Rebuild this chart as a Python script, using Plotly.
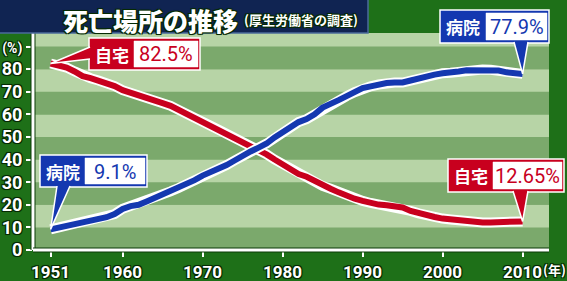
import plotly.graph_objects as go

years = list(range(1951, 2011))
hospital = [9.1, 9.9, 10.5, 11.2, 12.0, 12.8, 13.6, 14.5, 15.9, 18.2,
            19.4, 20.0, 21.5, 23.0, 24.6, 25.9, 27.4, 28.9, 30.9, 32.9,
            34.3, 36.0, 37.6, 39.6, 41.8, 43.6, 45.3, 47.1, 49.8, 52.1,
            54.7, 56.6, 57.9, 60.0, 63.0, 64.4, 66.3, 68.1, 69.8, 71.6,
            72.4, 73.2, 73.9, 74.1, 74.1, 75.0, 76.0, 77.2, 77.6, 78.2,
            78.4, 79.0, 79.5, 79.6, 79.8, 79.7, 79.4, 78.6, 78.3, 77.9]
home = [82.5, 81.8, 80.7, 79.0, 76.9, 76.0, 75.0, 74.0, 72.5, 70.7,
        69.6, 68.9, 67.8, 66.5, 65.0, 63.8, 62.0, 60.5, 58.5, 56.6,
        55.0, 53.2, 51.5, 49.8, 47.7, 45.9, 44.0, 42.3, 40.0, 38.0,
        35.6, 33.6, 32.4, 30.5, 28.3, 27.1, 25.5, 23.9, 22.7, 21.7,
        20.8, 20.1, 19.8, 19.4, 18.8, 17.3, 16.2, 15.1, 14.6, 13.9,
        13.5, 13.0, 12.6, 12.4, 12.2, 12.2, 12.3, 12.7, 12.4, 12.65]

xtick_vals = [1951, 1960, 1970, 1980, 1990, 2000, 2010]
ytick_vals = [0, 10, 20, 30, 40, 50, 60, 70, 80, 90]
ytick_text = ["0", "10", "20", "30", "40", "50", "60", "70", "80",
              "<span style='font-size:14px'>(%)</span>"]

title = "死亡場所の推移"
subtitle = "(厚生労働省の調査)"
label_home = "自宅"
label_hosp = "病院"

X0, X1 = 1948.8, 2013.3
Y0, Y1 = 0, 96
W, H = 567, 281
ML, MR, MT, MB = 33, 18, 33, 31
PW, PH = W - ML - MR, H - MT - MB

RED = "#c8001e"
BLUE = "#1438b0"
OUT = "0 0 2px #062a02, 1px 1px 0 #062a02, -1px -1px 0 #062a02, 1px -1px 0 #062a02, -1px 1px 0 #062a02"


def px(x):
    return (x - ML) / PW


def py(y):
    return (MT + PH - y) / PH


def dx(v):
    return (v - X0) / (X1 - X0)


def dy(v):
    return (v - Y0) / (Y1 - Y0)


fig = go.Figure()

for ys, col in [(home, RED), (hospital, BLUE)]:
    fig.add_trace(go.Scatter(x=years, y=ys, mode="lines",
                             line=dict(color="white", width=10),
                             hoverinfo="skip", showlegend=False))
    fig.add_trace(go.Scatter(x=years, y=ys, mode="lines",
                             line=dict(color=col, width=6),
                             hoverinfo="skip", showlegend=False))

shapes = []
# stripes
for lo in range(0, 100, 10):
    light = (lo // 10) % 2 == 1
    shapes.append(dict(type="rect", xref="paper", yref="y", x0=0, x1=1,
                       y0=lo, y1=min(lo + 10, Y1), layer="below", line_width=0,
                       fillcolor="#b7d4a6" if light else "#7ba96c"))

# axis lines with dark outline
for (xa, ya, xb, yb) in [(ML, MT, ML, MT + PH), (ML, MT + PH, W - MR, MT + PH)]:
    shapes.append(dict(type="line", xref="paper", yref="paper",
                       x0=px(xa), y0=py(ya), x1=px(xb), y1=py(yb),
                       line=dict(color="#0a3a06", width=5)))
    shapes.append(dict(type="line", xref="paper", yref="paper",
                       x0=px(xa), y0=py(ya), x1=px(xb), y1=py(yb),
                       line=dict(color="white", width=3)))

# title bar
shapes.append(dict(type="rect", xref="paper", yref="paper",
                   x0=px(-2), x1=px(368), y0=py(33), y1=py(-2),
                   fillcolor="#102452", line=dict(color="#4a6a9a", width=1.5)))

annotations = []


def callout(box, inner, base, tip, col, name, value):
    bx0, by0, bx1, by1 = box
    ix0, iy0, ix1, iy1 = inner
    shapes.append(dict(type="rect", xref="paper", yref="paper",
                       x0=px(bx0), x1=px(bx1), y0=py(by1), y1=py(by0),
                       fillcolor=col, line=dict(color="white", width=1.5)))
    shapes.append(dict(type="rect", xref="paper", yref="paper",
                       x0=px(ix0), x1=px(ix1), y0=py(iy1), y1=py(iy0),
                       fillcolor="white", line=dict(color="white", width=0.5)))
    (b1x, b1y), (b2x, b2y) = base
    tx, ty = tip
    path = (f"M {px(b1x)} {py(b1y)} L {dx(tx)} {dy(ty)} L {px(b2x)} {py(b2y)}")
    shapes.append(dict(type="path", xref="paper", yref="paper", path=path,
                       fillcolor=col, line=dict(color="white", width=1.5)))
    annotations.append(dict(xref="paper", yref="paper",
                            x=px((bx0 + ix0) / 2), y=py((by0 + by1) / 2),
                            text=name, showarrow=False, xanchor="center", yanchor="middle",
                            font=dict(family="Noto Sans CJK JP", size=17, color="white",
                                      weight="bold")))
    annotations.append(dict(xref="paper", yref="paper",
                            x=px((ix0 + ix1) / 2), y=py((iy0 + iy1) / 2 + 0.5),
                            text=value, showarrow=False, xanchor="center", yanchor="middle",
                            font=dict(family="Roboto", size=20, color=col)))


callout((89, 38, 200, 70), (134, 41, 198, 67), ((90, 47), (90, 59)),
        (years[0], home[0]), RED, label_home, f"{home[0]}%")
callout((440, 10, 549, 43), (486, 13, 547, 40), ((514, 42), (528, 42)),
        (years[-1], hospital[-1]), BLUE, label_hosp, f"{hospital[-1]}%")
callout((448, 159, 564, 192), (493, 162, 562, 189), ((513, 191), (528, 191)),
        (years[-1], home[-1]), RED, label_home, f"{home[-1]}%")
callout((40, 155, 147, 187), (85, 158, 145, 184), ((57, 186), (70, 186)),
        (years[0], hospital[0]), BLUE, label_hosp, f"{hospital[0]}%")

annotations.append(dict(xref="paper", yref="paper", x=px(150), y=py(1),
                        text=title, showarrow=False, xanchor="center", yanchor="top",
                        borderpad=0,
                        font=dict(family="Noto Sans CJK JP", size=25, color="white",
                                  weight=900, shadow=OUT)))
annotations.append(dict(xref="paper", yref="paper", x=px(242), y=py(20),
                        text=subtitle, showarrow=False, xanchor="left", yanchor="middle",
                        font=dict(family="Noto Sans CJK JP", size=13, color="white",
                                  weight="bold", shadow=OUT)))
annotations.append(dict(xref="paper", yref="paper", x=px(541), y=py(269),
                        text="(年)", showarrow=False, xanchor="left", yanchor="middle",
                        font=dict(family="Noto Sans CJK JP", size=13, color="white",
                                  weight="bold", shadow=OUT)))

fig.update_layout(
    width=W, height=H,
    margin=dict(l=ML, r=MR, t=MT, b=MB, pad=0, autoexpand=False),
    paper_bgcolor="#1e7018",
    plot_bgcolor="#7ba96c",
    shapes=shapes,
    annotations=annotations,
    xaxis=dict(range=[X0, X1], tickvals=xtick_vals, showgrid=False, zeroline=False,
               showline=False, ticks="outside", ticklen=6, tickwidth=2, tickcolor="white",
               ticklabelstandoff=1, automargin=False,
               tickfont=dict(family="Roboto", size=17, color="white",
                             weight="bold", shadow=OUT)),
    yaxis=dict(range=[Y0, Y1], tickvals=ytick_vals, ticktext=ytick_text, showgrid=False,
               zeroline=False, showline=False, ticks="outside", ticklen=6, tickwidth=2,
               tickcolor="white", automargin=False,
               tickfont=dict(family="Roboto", size=18, color="white",
                             weight="bold", shadow=OUT)),
)

fig.write_html("out.html")
